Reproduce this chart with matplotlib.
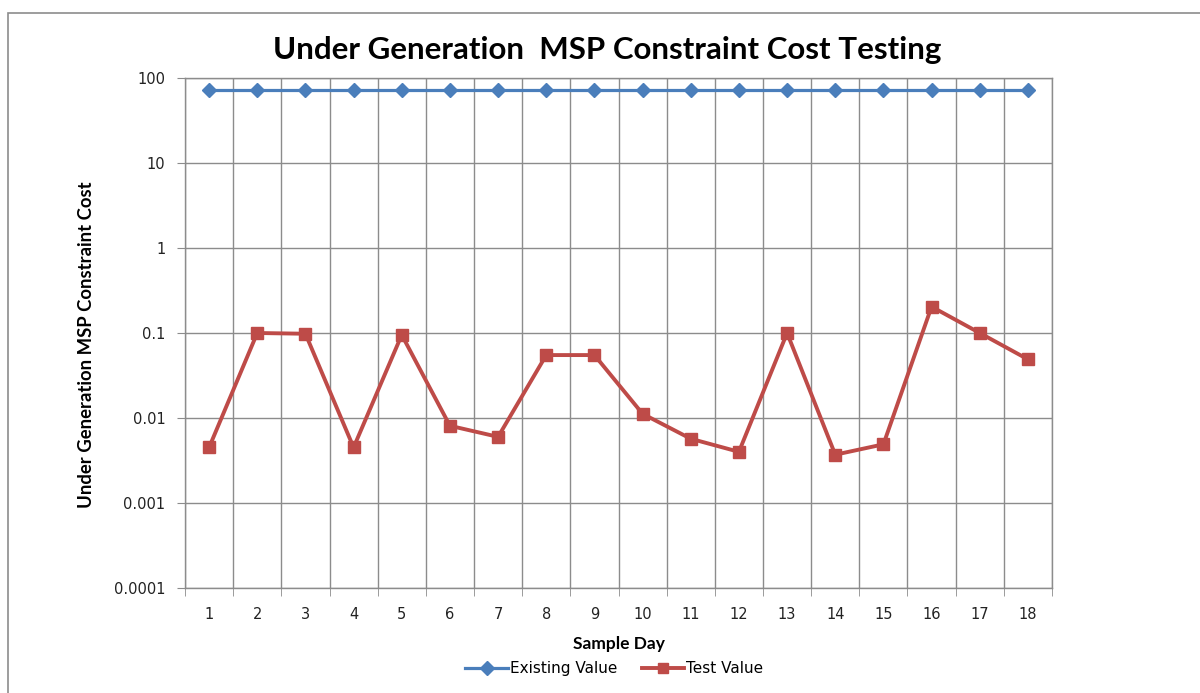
import numpy as np
import matplotlib
matplotlib.use("Agg")
from matplotlib import pyplot as plt
from matplotlib.patches import Rectangle

# sample days and the two series (log scale)
days = list(range(1, 19))
existing = [72] * 18
test = [0.0045, 0.1, 0.098, 0.0045, 0.095, 0.0081, 0.006, 0.055, 0.055,
        0.0112, 0.0057, 0.004, 0.1, 0.0037, 0.0049, 0.204, 0.1, 0.049]
yticks = [0.0001, 0.001, 0.01, 0.1, 1, 10, 100]
ytick_labels = ["0.0001", "0.001", "0.01", "0.1", "1", "10", "100"]

blue = "#4A7EBB"
red = "#BE4B48"
grid_c = "#8C8C8C"

fig = plt.figure(figsize=(12, 6.93), dpi=100)
ax = fig.add_axes([185/1200, 1-588/693, (1052-185)/1200, (588-78)/693])

# outer chart frame
fig.patches.append(Rectangle((8/1200, -0.1), 1.2, 1-13/693+0.1, transform=fig.transFigure,
                             fill=False, edgecolor="#8C8C8C", lw=1.2))

ax.plot(days, existing, color=blue, lw=2.3, marker="D", ms=7.5, label="Existing Value", zorder=3)
ax.plot(days, test, color=red, lw=2.8, marker="s", ms=8.5, label="Test Value", zorder=3)

ax.set_yscale("log")
ax.set_ylim(0.0001, 100)
ax.set_xlim(0.5, 18.5)
ax.set_yticks(yticks)
ax.set_yticklabels(ytick_labels)
ax.yaxis.set_minor_locator(matplotlib.ticker.NullLocator())
ax.set_xticks(days)
ax.set_xticks(np.arange(0.5, 19, 1), minor=True)

ax.tick_params(axis="x", which="major", length=0, pad=14, labelsize=10.5, labelcolor="#222222")
ax.tick_params(axis="x", which="minor", length=6, color=grid_c, direction="out")
ax.tick_params(axis="y", which="major", length=6, color=grid_c, pad=8, labelsize=10.5,
               labelcolor="#222222")

ax.grid(True, axis="y", which="major", color=grid_c, lw=1)
ax.grid(True, axis="x", which="minor", color=grid_c, lw=1)
ax.set_axisbelow(True)
for s in ax.spines.values():
    s.set_color(grid_c)
    s.set_linewidth(1)

ax.set_title("Under Generation  MSP Constraint Cost Testing", fontsize=22.5, fontweight="bold",
             family="Lato", pad=14, x=0.487)
ax.set_xlabel("Sample Day", fontsize=12.5, fontweight="bold", family="Lato", labelpad=10)
ax.set_ylabel("Under Generation MSP Constraint Cost", fontsize=13.3, fontweight="bold",
              family="Lato")
ax.yaxis.set_label_coords(-0.104, 0.478)

leg = ax.legend(loc="upper center", bbox_to_anchor=(0.495, -0.117), ncol=2, frameon=False,
                fontsize=11, handlelength=2.8, handletextpad=0.1, columnspacing=1.6,
                markerscale=0.9)

fig.savefig("out.png", dpi=100)
